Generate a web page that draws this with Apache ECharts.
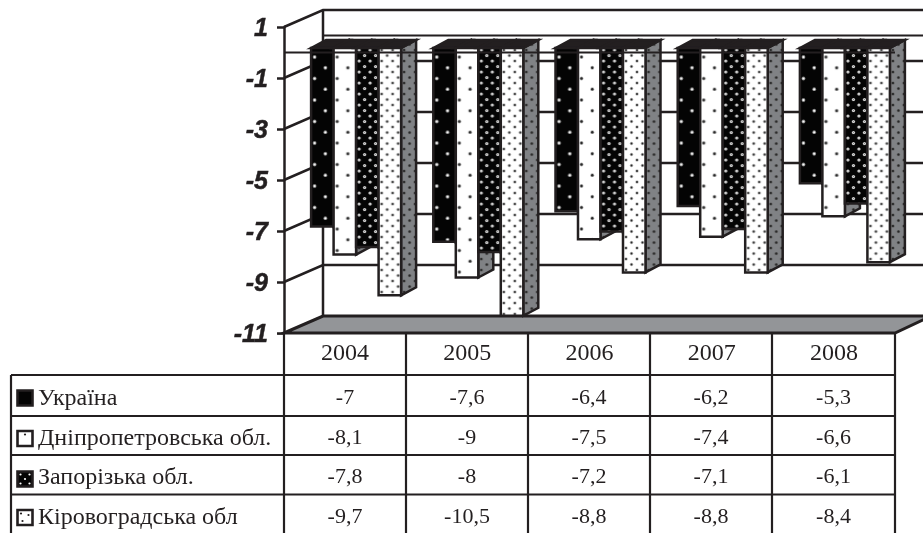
<!DOCTYPE html>
<html>
<head>
<meta charset="utf-8">
<style>html,body{margin:0;padding:0;background:#fff}#main{width:923px;height:533px}</style>
<script src="https://cdn.jsdelivr.net/npm/echarts@6/dist/echarts.min.js"></script>
</head>
<body>
<div id="main"></div>
<script>
const categories = ['2004', '2005', '2006', '2007', '2008'];
const seriesNames = ['Україна', 'Дніпропетровська обл.', 'Запорізька обл.', 'Кіровоградська обл'];
const ukraine = [-7, -7.6, -6.4, -6.2, -5.3];
const dnipro = [-8.1, -9, -7.5, -7.4, -6.6];
const zaporizhzhia = [-7.8, -8, -7.2, -7.1, -6.1];
const kirovohrad = [-9.7, -10.5, -8.8, -8.8, -8.4];
const yTicks = [1, -1, -3, -5, -7, -9, -11];
const allValues = [ukraine, dnipro, zaporizhzhia, kirovohrad];

const ink = '#231f20';
const sideGrey = '#808285';
const floorGrey = '#939598';

// staggered dot fabric, tile is two periods so the 10.75px pitch stays even
function dotFill(bg, dot, dotR, halo, haloR, pitchX, pitchY, x0, y0) {
  const w = Math.round(pitchX * 4), h = Math.round(pitchY * 4);
  const c = document.createElement('canvas');
  c.width = w; c.height = h;
  const g = c.getContext('2d');
  g.fillStyle = bg;
  g.fillRect(0, 0, w, h);
  for (let r = 0; r < 4; r++) {
    for (let k = 0; k < 2; k++) {
      const x = x0 + (k * 2 + (r % 2)) * pitchX;
      const y = y0 + r * pitchY;
      g.fillStyle = halo;
      g.beginPath(); g.arc(x, y, haloR, 0, 7); g.fill();
      g.fillStyle = dot;
      g.beginPath(); g.arc(x, y, dotR, 0, 7); g.fill();
    }
  }
  return { image: c, repeat: 'repeat' };
}

const fills = [
  dotFill('#040404', '#ffffff', 1.1, '#8a8a8a', 1.9, 10.75, 10.75, 3.5, 9),
  dotFill('#ffffff', '#2a2a2a', 1.2, '#b0b0b0', 2, 10.75, 10.75, 3.5, 9),
  dotFill('#040404', '#707070', 0.6, '#e8e8e8', 1.6, 5.5, 5.5, 3, 2),
  dotFill('#ffffff', '#2a2a2a', 1, '#bdbdbd', 1.8, 5.5, 5.5, 3, 2)
];
const sideFill = dotFill(sideGrey, '#222222', 1, '#555555', 1.6, 5.5, 5.5, 3, 2);

// 3d offsets of the box and of the bars inside it
const wallDx = 39, wallDy = 17;
const barDx = 15, barDy = 8, barShiftY = 4.5, barW = 22.5, groupShift = -34;

function renderBar(params, api) {
  const k = params.seriesIndex - 1;
  const p = api.coord([api.value(0), api.value(1)]);
  const zero = api.coord([api.value(0), 0]);
  const x = p[0] + groupShift + k * barW;
  const top = zero[1] - barShiftY;
  const h = p[1] - zero[1];
  const line = { stroke: ink, lineWidth: 2.5, lineJoin: 'miter' };
  return {
    type: 'group',
    children: [
      { type: 'polygon', x: x + barW, y: top,
        shape: { points: [[0, 0], [barDx, -barDy], [barDx, h - barDy], [0, h]] },
        style: Object.assign({ fill: sideFill }, line) },
      { type: 'polygon',
        shape: { points: [[x, top], [x + barDx, top - barDy], [x + barW + barDx, top - barDy], [x + barW, top]] },
        style: Object.assign({ fill: ink }, line) },
      { type: 'rect', x: x, y: top,
        shape: { x: 0, y: 0, width: barW, height: h },
        style: Object.assign({ fill: fills[k] }, line) }
    ]
  };
}

function renderFrame(params, api) {
  const left = params.coordSys.x;
  const right = left + params.coordSys.width;
  const yTop = api.coord([0, yTicks[0]])[1];
  const yBottom = api.coord([0, yTicks[yTicks.length - 1]])[1];
  const yZero = api.coord([0, 0])[1];
  const bx = left + wallDx;
  const line = { stroke: ink, lineWidth: 2.5 };
  const children = [
    { type: 'polygon',
      shape: { points: [[left, yBottom], [bx, yBottom - wallDy], [925, yBottom - wallDy], [925, yBottom - wallDy + 3], [right, yBottom]] },
      style: { fill: floorGrey, stroke: ink, lineWidth: 3 } },
    { type: 'line', shape: { x1: bx, y1: yTop - wallDy, x2: bx, y2: yBottom - wallDy }, style: line },
    { type: 'line', shape: { x1: bx, y1: yZero - wallDy, x2: 925, y2: yZero - wallDy }, style: { stroke: ink, lineWidth: 1.8 } }
  ];
  yTicks.slice(0, -1).forEach(function (v) {
    const y = api.coord([0, v])[1];
    children.push({ type: 'polyline',
      shape: { points: [[left, y], [bx, y - wallDy], [925, y - wallDy]] },
      style: { fill: 'none', stroke: ink, lineWidth: 2.5 } });
  });
  return { type: 'group', children: children };
}

function renderZero(params, api) {
  const y = api.coord([0, 0])[1];
  return { type: 'line',
    shape: { x1: params.coordSys.x, y1: y, x2: params.coordSys.x + params.coordSys.width, y2: y },
    style: { stroke: ink, lineWidth: 1.8 } };
}

// table under the chart
const tableLeft = 11, tableRight = 895, tableBottom = 533;
const colLines = [284, 406, 528, 650, 772, 895];
const rowLines = [375, 416, 455, 494.5];
const valueY = [398, 438, 477, 517];
const nameY = [399, 438.5, 478, 518];
const keyY = [398, 438.5, 479, 517.5];
const keyDots = [[], [[7.5, 3.5]], [[3, 3], [12, 3], [7.5, 7.5], [3, 12], [12, 12]], [[3.5, 3.5], [11, 5], [5, 11]]];
const keyBg = ['#040404', '#ffffff', '#040404', '#ffffff'];
const keyDot = ['#ffffff', '#231f20', '#ffffff', '#231f20'];

function tableGraphic() {
  const out = [];
  const seg = function (x1, y1, x2, y2) {
    out.push({ type: 'line', silent: true, z: 20, shape: { x1: x1, y1: y1, x2: x2, y2: y2 }, style: { stroke: ink, lineWidth: 2.2 } });
  };
  colLines.forEach(function (x) { seg(x, 333, x, tableBottom); });
  seg(tableLeft, rowLines[0], tableLeft, tableBottom);
  rowLines.forEach(function (y) { seg(tableLeft, y, tableRight, y); });
  seriesNames.forEach(function (name, r) {
    const ky = keyY[r] - 7.5;
    out.push({ type: 'rect', silent: true, z: 20, shape: { x: 17.5, y: ky, width: 15, height: 15 },
      style: { fill: keyBg[r], stroke: ink, lineWidth: 2.6 } });
    keyDots[r].forEach(function (d) {
      out.push({ type: 'circle', silent: true, z: 21, shape: { cx: 17.5 + d[0], cy: ky + d[1], r: 1.1 }, style: { fill: keyDot[r] } });
    });
    out.push({ type: 'text', silent: true, z: 20, x: 38, y: nameY[r],
      style: { text: name, fill: ink, font: '24px "Liberation Serif"', textAlign: 'left', textVerticalAlign: 'middle' } });
    allValues[r].forEach(function (v, c) {
      out.push({ type: 'text', silent: true, z: 20, x: (colLines[c] + colLines[c + 1]) / 2, y: valueY[r],
        style: { text: String(v).replace('.', ','), fill: ink, font: '22px "Liberation Serif"', textAlign: 'center', textVerticalAlign: 'middle' } });
    });
  });
  return out;
}

const chart = echarts.init(document.getElementById('main'), null, { renderer: 'canvas' });

const series = [
  { name: 'frame', type: 'custom', data: [0], z: 1, silent: true, renderItem: renderFrame }
];
allValues.forEach(function (values, i) {
  series.push({
    name: seriesNames[i],
    type: 'custom',
    z: 2,
    silent: true,
    encode: { x: 0, y: 1 },
    data: values.map(function (v, c) { return [c, v]; }),
    renderItem: renderBar
  });
});
series.push({ name: 'zero', type: 'custom', data: [0], z: 3, silent: true, renderItem: renderZero });

chart.setOption({
  animation: false,
  backgroundColor: '#fff',
  grid: { left: 284, right: 28, top: 27, bottom: 200, containLabel: false },
  xAxis: {
    type: 'category',
    data: categories,
    position: 'bottom',
    axisLine: { show: false, onZero: false },
    axisTick: { show: false },
    axisLabel: { margin: 9, fontFamily: 'Liberation Serif', fontSize: 24, color: ink }
  },
  yAxis: {
    type: 'value',
    min: -11,
    max: 1,
    z: 10,
    splitLine: { show: false },
    axisLine: { show: true, lineStyle: { color: ink, width: 2.5 } },
    axisTick: { show: true, length: 7, customValues: yTicks, lineStyle: { color: ink, width: 2.5 } },
    axisLabel: {
      customValues: yTicks,
      margin: 16,
      formatter: '{a|{value}}',
      rich: {
        a: {
          padding: [5, 0, 0, 0],
          fontFamily: 'Liberation Sans',
          fontWeight: 'bold',
          fontStyle: 'italic',
          fontSize: 25,
          color: ink,
          textBorderColor: ink,
          textBorderWidth: 0.5
        }
      }
    }
  },
  series: series,
  graphic: tableGraphic()
});
</script>
</body>
</html>
